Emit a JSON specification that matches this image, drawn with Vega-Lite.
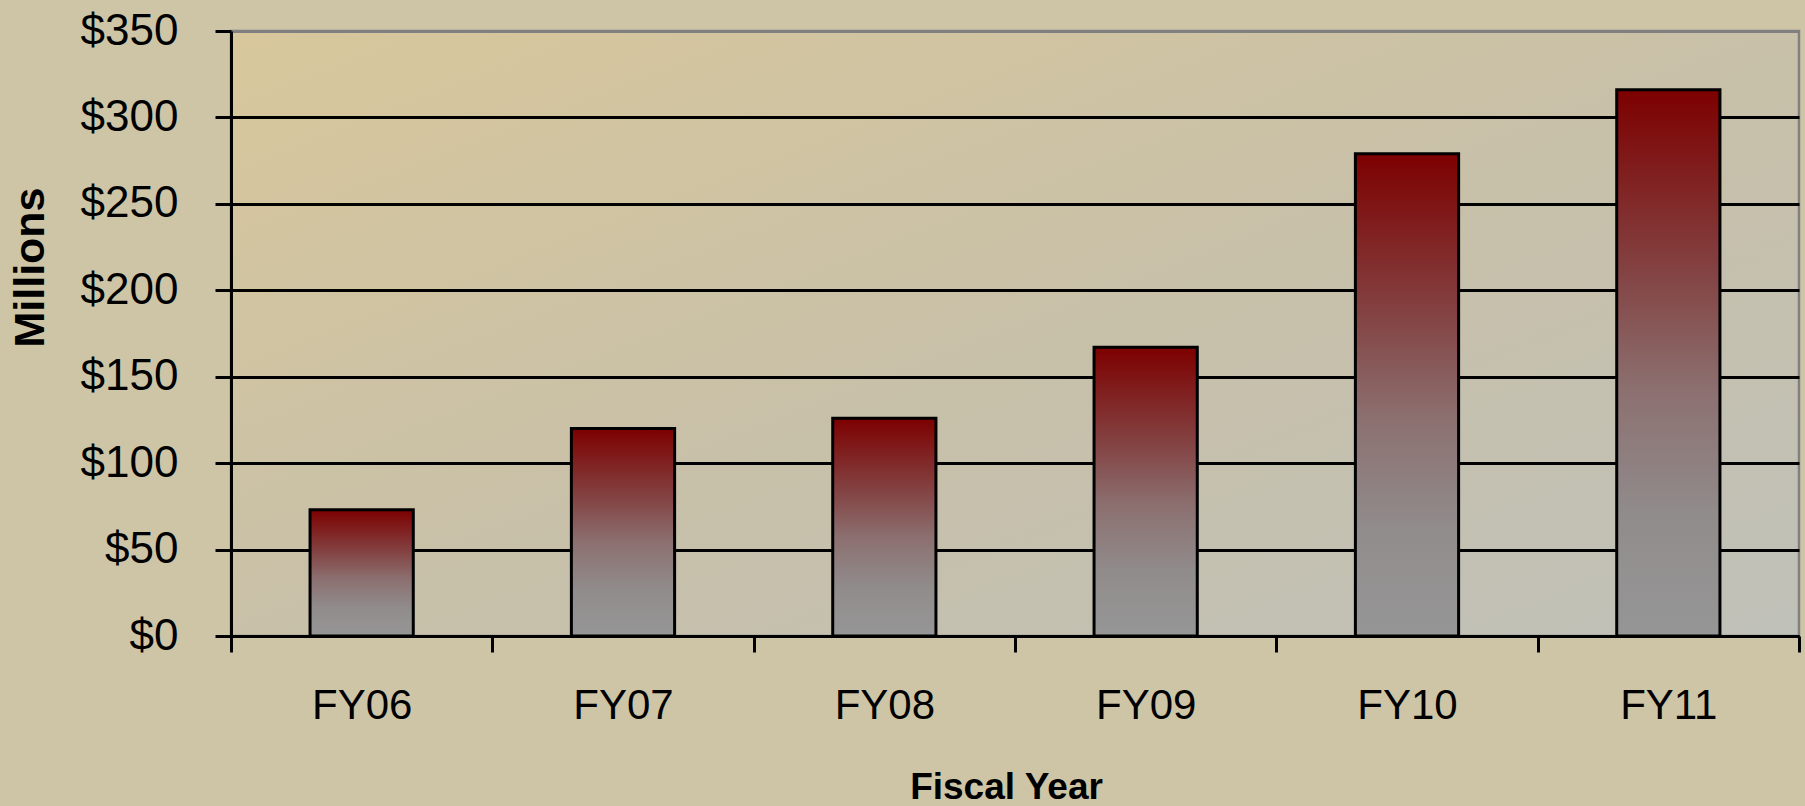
{
  "$schema": "https://vega.github.io/schema/vega-lite/v6.json",
  "width": 1568,
  "height": 605,
  "autosize": {"type": "none"},
  "padding": {"left": 231, "top": 31, "right": 6, "bottom": 170},
  "background": "#cec5a7",
  "config": {
    "font": "Liberation Sans",
    "view": {
      "stroke": "#808080",
      "strokeWidth": 2.5,
      "fill": {
        "gradient": "linear",
        "x1": 0, "y1": 0, "x2": 1, "y2": 1,
        "stops": [
          {"offset": 0, "color": "#d8c79b"},
          {"offset": 0.5, "color": "#c8c0a8"},
          {"offset": 1, "color": "#c0c1b9"}
        ]
      }
    }
  },
  "data": {
    "values": [
      {"year": "FY06", "value": 73},
      {"year": "FY07", "value": 120},
      {"year": "FY08", "value": 126},
      {"year": "FY09", "value": 167},
      {"year": "FY10", "value": 279},
      {"year": "FY11", "value": 316}
    ]
  },
  "mark": {
    "type": "bar",
    "width": {"band": 0.395},
    "stroke": "black",
    "strokeWidth": 3,
    "fill": {
      "gradient": "linear",
      "x1": 0, "y1": 0, "x2": 0, "y2": 1,
      "stops": [
        {"offset": 0, "color": "#7d0000"},
        {"offset": 0.35, "color": "#844646"},
        {"offset": 0.55, "color": "#8c7070"},
        {"offset": 0.78, "color": "#918c8c"},
        {"offset": 1, "color": "#969696"}
      ]
    }
  },
  "encoding": {
    "x": {
      "field": "year",
      "type": "nominal",
      "sort": null,
      "scale": {"paddingInner": 0, "paddingOuter": 0},
      "axis": {
        "tickBand": "extent",
        "grid": false,
        "domainColor": "black",
        "domainWidth": 3,
        "tickColor": "black",
        "tickWidth": 3,
        "tickSize": 16,
        "labelFontSize": 42,
        "labelColor": "black",
        "labelPadding": 33,
        "labelAngle": 0,
        "title": "Fiscal Year",
        "titleFontSize": 37,
        "titleFontWeight": "bold",
        "titleColor": "black",
        "titleX": 775,
        "titleY": 162,
        "titleBaseline": "alphabetic",
        "titleAlign": "center"
      }
    },
    "y": {
      "field": "value",
      "type": "quantitative",
      "scale": {"domain": [0, 350], "nice": false},
      "axis": {
        "values": [0, 50, 100, 150, 200, 250, 300, 350],
        "format": "$.0f",
        "grid": true,
        "gridColor": {"condition": {"test": "datum.value === 350", "value": "#808080"}, "value": "black"},
        "gridWidth": 3,
        "gridOpacity": 1,
        "domainColor": "black",
        "domainWidth": 3,
        "tickColor": "black",
        "tickWidth": 3,
        "tickSize": 16,
        "labelFontSize": 44,
        "labelColor": "black",
        "labelPadding": 37,
        "labelFlush": false,
        "labelOverlap": false,
        "title": "Millions",
        "titleFontSize": 43,
        "titleFontWeight": "bold",
        "titleColor": "black",
        "titleAngle": -90,
        "titleX": -188,
        "titleY": 236,
        "titleBaseline": "alphabetic",
        "titleAlign": "center"
      }
    }
  }
}
